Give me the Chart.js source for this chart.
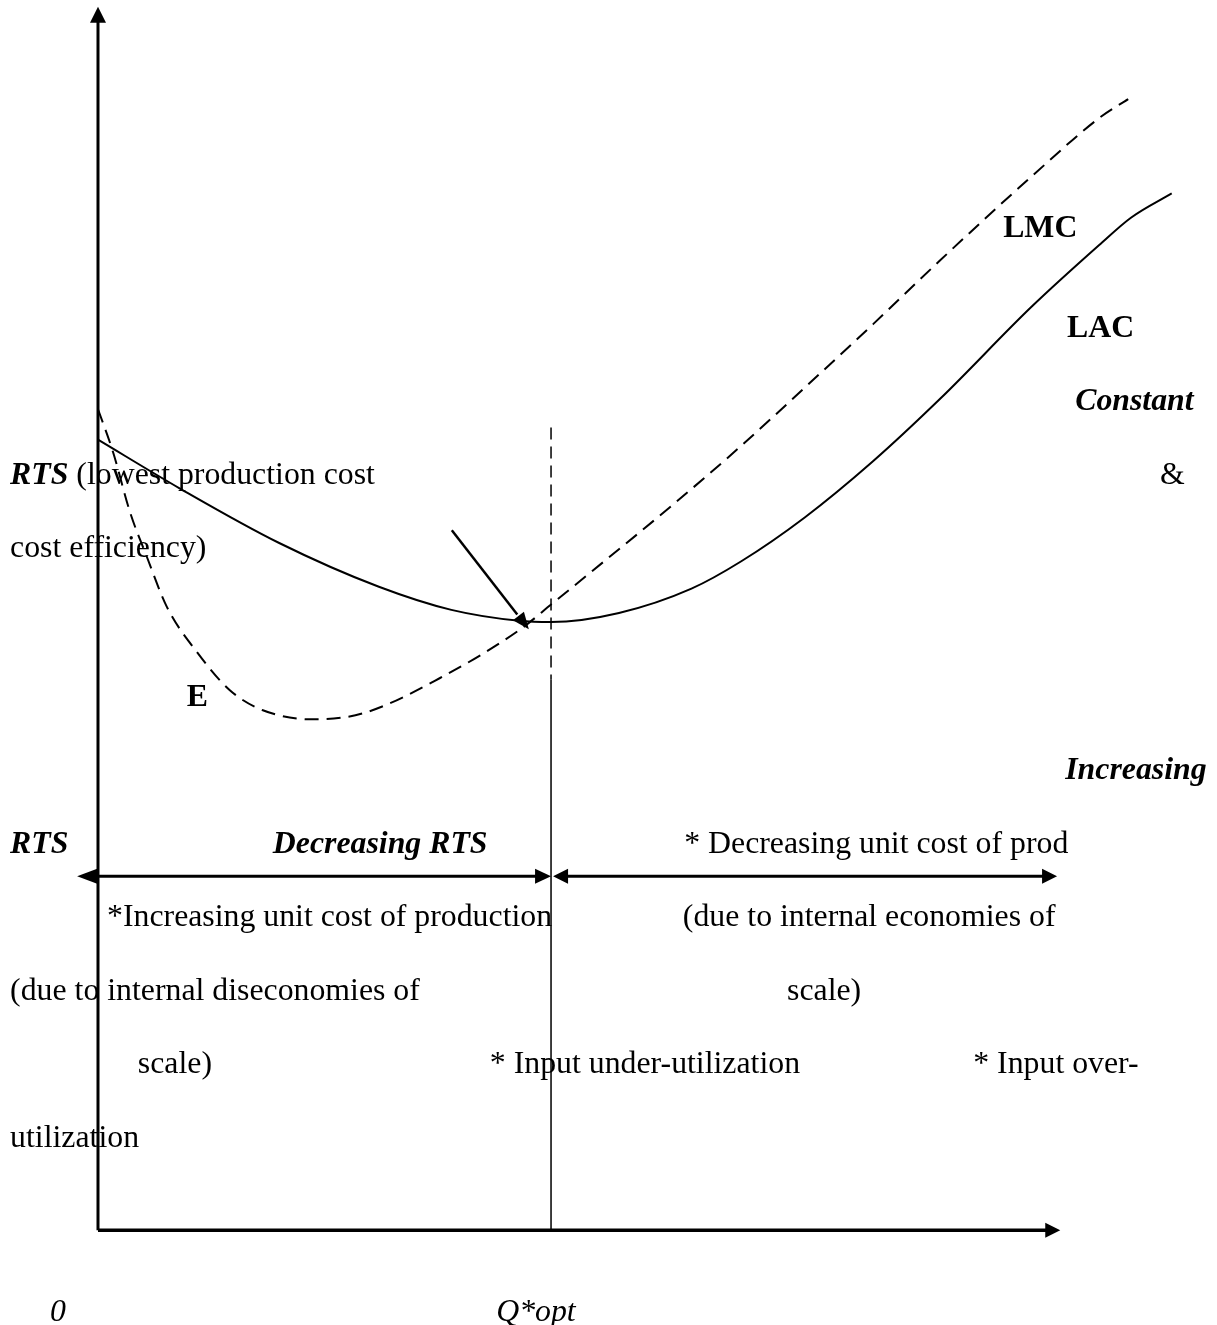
<!DOCTYPE html>
<html>
<head>
<meta charset="utf-8">
<script src="https://cdn.jsdelivr.net/npm/chart.js@4.4.1/dist/chart.umd.min.js"></script>
<style>
  html, body { margin: 0; padding: 0; background: #fff; }
  #wrap { width: 1217px; height: 1325px; position: relative; }
</style>
</head>
<body>
<div id="wrap"><canvas id="costChart"></canvas></div>
<script>
// long-run average cost (solid) and long-run marginal cost (dashed)
const lacQ    = [0, 18, 40, 62, 78, 93, 100, 115, 131, 142, 156, 171, 186, 206, 221, 228, 237];
const lacCost = [130, 122, 113, 105.8, 102, 100.2, 100, 101.5, 105.5, 110, 117.2, 126.4, 136.8, 151.8, 162, 166.5, 170.5];
const lmcQ    = [0, 3.3, 7.1, 10.8, 15.2, 21.9, 29.1, 36.4, 47.5, 58.5, 75.5, 93.2, 100.2, 112.4, 126.9, 141.7, 156.5, 171.1, 185.9, 206.4, 221.2, 227.4];
const lmcCost = [135, 128, 118, 110.7, 102.5, 95, 88.8, 85.5, 84, 85, 90.8, 98.8, 103, 110.4, 119.3, 128.8, 138.9, 149, 159.5, 173.5, 183, 186];

// optimum output and the guide levels around it
const qOpt = 100;
const qGuideTop = 132;      // top of the dashed guide
const qGuideSplit = 90.5;   // dashed -> solid
const rangeY = 58.2;        // level of the RTS range arrows
const pointerFrom = [78.1, 115.1];
const pointerTo = [95.1, 98.8];

// axis extents (data units)
const xMin = -21.63, xMax = 247.0;
const yMin = -15.6, yMax = 202.3;
const yAxisTop = 201.2;
const xAxisEnd = 212.4;

const SERIF = "'Liberation Serif', 'Times New Roman', serif";

// text blocks: anchor (data units) + runs of [text, style]
const notes = [
  { x: -19.4, y: 122.7, runs: [['RTS', 'bold italic'], [' (lowest production cost', '']] },
  { x: 234.4, y: 122.7, runs: [['&', '']] },
  { x: -19.4, y: 110.7, runs: [['cost efficiency)', '']] },
  { x: 19.6,  y: 86.2,  runs: [['E', 'bold']] },
  { x: 215.7, y: 134.9, runs: [['Constant', 'bold italic']] },
  { x: 199.8, y: 163.3, runs: [['LMC', 'bold']] },
  { x: 213.9, y: 146.9, runs: [['LAC', 'bold']] },
  { x: 213.5, y: 74.2,  runs: [['Increasing', 'bold italic']] },
  { x: -19.4, y: 62.0,  runs: [['RTS', 'bold italic']] },
  { x: 38.6,  y: 62.0,  runs: [['Decreasing RTS', 'bold italic']] },
  { x: 129.4, y: 62.0,  runs: [['* Decreasing unit cost of prod', '']] },
  { x: 2.0,   y: 50.0,  runs: [['*Increasing unit cost of production', '']] },
  { x: 129.1, y: 50.0,  runs: [['(due to internal economies of', '']] },
  { x: -19.4, y: 37.8,  runs: [['(due to internal diseconomies of', '']] },
  { x: 152.1, y: 37.8,  runs: [['scale)', '']] },
  { x: 8.8,   y: 25.8,  runs: [['scale)', '']] },
  { x: 86.5,  y: 25.8,  runs: [['* Input under-utilization', '']] },
  { x: 193.2, y: 25.8,  runs: [['* Input over-', '']] },
  { x: -19.4, y: 13.7,  runs: [['utilization', '']] },
  { x: -10.6, y: -15.0, runs: [['0', 'italic']] },
  { x: 87.9,  y: -15.0, runs: [['Q*opt', 'italic']] }
];

function pts(xs, ys) { return xs.map((x, i) => ({ x: x, y: ys[i] })); }

function head(ctx, x1, y1, x2, y2, len, half) {
  const a = Math.atan2(y2 - y1, x2 - x1);
  const bx = x2 - len * Math.cos(a), by = y2 - len * Math.sin(a);
  ctx.beginPath();
  ctx.moveTo(x2, y2);
  ctx.lineTo(bx + half * Math.sin(a), by - half * Math.cos(a));
  ctx.lineTo(bx - half * Math.sin(a), by + half * Math.cos(a));
  ctx.closePath();
  ctx.fill();
}

function line(ctx, x1, y1, x2, y2, w) {
  ctx.lineWidth = w;
  ctx.beginPath();
  ctx.moveTo(x1, y1);
  ctx.lineTo(x2, y2);
  ctx.stroke();
}

const diagram = {
  id: 'diagram',
  afterDatasetsDraw(chart) {
    const ctx = chart.ctx;
    const sx = chart.scales.x, sy = chart.scales.y;
    const X = v => sx.getPixelForValue(v);
    const Y = v => sy.getPixelForValue(v);
    ctx.save();
    ctx.strokeStyle = '#000';
    ctx.fillStyle = '#000';
    ctx.setLineDash([]);

    // axes
    line(ctx, X(0), Y(0), X(0), Y(yAxisTop) + 14, 3);
    head(ctx, X(0), Y(0), X(0), Y(yAxisTop), 16, 8);
    line(ctx, X(0), Y(0), X(xAxisEnd) - 14, Y(0), 3.5);
    head(ctx, X(0), Y(0), X(xAxisEnd), Y(0), 15, 7.5);

    // RTS range arrows
    const ax1 = X(-4.6), ax2 = X(qOpt), ax3 = X(qOpt) + 2, ax4 = X(211.7), ay = Y(rangeY);
    line(ctx, ax1 + 10, ay, ax2 - 10, ay, 3);
    head(ctx, ax2, ay, ax1, ay, 20, 7.5);
    head(ctx, ax1, ay, ax2, ay, 16, 7.5);
    line(ctx, ax3 + 10, ay, ax4 - 10, ay, 3);
    head(ctx, ax4, ay, ax3, ay, 15, 7.5);
    head(ctx, ax3, ay, ax4, ay, 15, 7.5);

    // pointer to the minimum
    const px1 = X(pointerFrom[0]), py1 = Y(pointerFrom[1]);
    const px2 = X(pointerTo[0]), py2 = Y(pointerTo[1]);
    line(ctx, px1, py1, px1 + (px2 - px1) * 0.85, py1 + (py2 - py1) * 0.85, 2.5);
    head(ctx, px1, py1, px2, py2, 17, 7);

    // text
    ctx.textBaseline = 'alphabetic';
    ctx.textAlign = 'left';
    notes.forEach(n => {
      let cx = X(n.x);
      const cy = Y(n.y);
      n.runs.forEach(r => {
        ctx.font = (r[1] ? r[1] + ' ' : '') + '31.8px ' + SERIF;
        ctx.fillText(r[0], cx, cy);
        cx += ctx.measureText(r[0]).width;
      });
    });
    ctx.restore();
  }
};

new Chart(document.getElementById('costChart'), {
  type: 'line',
  data: {
    datasets: [
      {
        label: 'LAC',
        data: pts(lacQ, lacCost),
        borderColor: '#000',
        borderWidth: 2,
        pointRadius: 0,
        cubicInterpolationMode: 'monotone'
      },
      {
        label: 'LMC',
        data: pts(lmcQ, lmcCost),
        borderColor: '#000',
        borderWidth: 2,
        borderDash: [14, 8],
        pointRadius: 0,
        cubicInterpolationMode: 'monotone'
      },
      {
        label: 'Q* guide (dashed)',
        data: [{ x: qOpt, y: qGuideTop }, { x: qOpt, y: qGuideSplit }],
        borderColor: '#000',
        borderWidth: 1.5,
        borderDash: [12, 7],
        pointRadius: 0,
        tension: 0
      },
      {
        label: 'Q* guide',
        data: [{ x: qOpt, y: qGuideSplit }, { x: qOpt, y: 0 }],
        borderColor: '#000',
        borderWidth: 1.5,
        pointRadius: 0,
        tension: 0
      }
    ]
  },
  options: {
    responsive: true, maintainAspectRatio: false,
    animation: false,
    layout: { padding: 0 },
    plugins: { legend: { display: false }, tooltip: { enabled: false } },
    scales: {
      x: { type: 'linear', min: xMin, max: xMax, display: false },
      y: { type: 'linear', min: yMin, max: yMax, display: false }
    }
  },
  plugins: [diagram]
});
</script>
</body>
</html>
